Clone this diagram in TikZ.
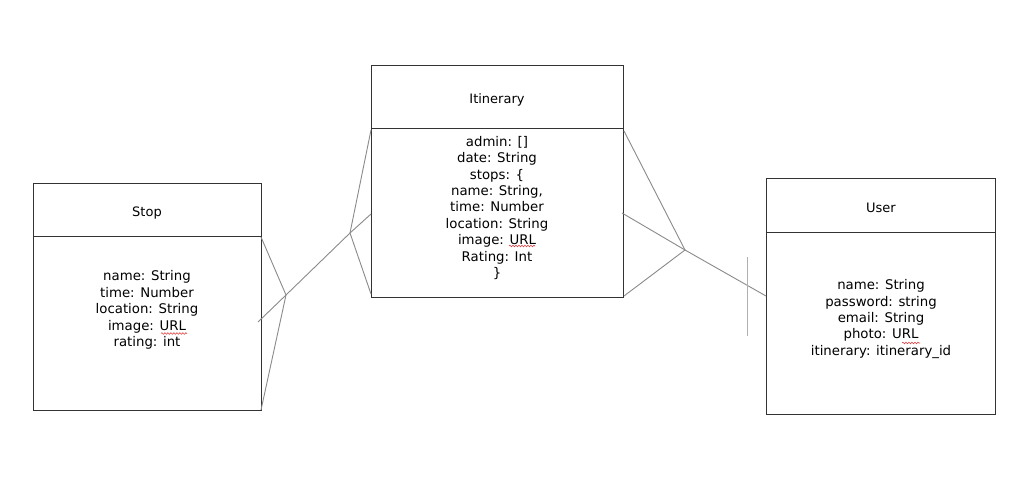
\documentclass[tikz,border=0pt]{standalone}
\usepackage{fontspec}
\setmainfont{DejaVu Sans}
\usetikzlibrary{decorations.pathmorphing}
\definecolor{boxcol}{HTML}{333333}
\definecolor{linkcol}{HTML}{8A8A8A}
\definecolor{barcol}{HTML}{B0B0B0}
\definecolor{spellcol}{HTML}{E04040}
\tikzset{
  entity/.style={draw=boxcol, line width=1pt, inner sep=0pt, anchor=north west},
  divider/.style={draw=boxcol, line width=1pt},
  ttl/.style={font=\fontsize{13}{16.4}\selectfont, text=black, inner sep=0pt},
  attrs/.style={font=\fontsize{13.3}{16.4}\selectfont, text=black, align=center, inner sep=0pt},
  link/.style={draw=linkcol, line width=0.9pt},
  bar/.style={draw=barcol, line width=1pt},
  spell/.style={draw=spellcol, line width=0.6pt, decorate, decoration={snake, amplitude=0.8pt, segment length=3pt}}
}
\begin{document}
\begin{tikzpicture}[x=1pt,y=-1pt]
\useasboundingbox (0,0) rectangle (1024,486);
\fill[white] (0,0) rectangle (1024,486);

% Stop
\node[entity, minimum width=228pt, minimum height=227pt] (stop) at (33,183) {};
\draw[divider] (33,236) -- (261,236);
\node[ttl] (stoptitle) at (147,213) {Stop};
\node[attrs] (stopattr) at (147,310) {name: String\\time: Number\\location: String\\image: URL\\rating: int};

% Itinerary
\node[entity, minimum width=252pt, minimum height=232pt] (itin) at (371,65) {};
\draw[divider] (371,129) -- (623,129);
\node[ttl] (itintitle) at (497,100) {Itinerary};
\node[attrs] (itinattr) at (497,208) {admin: []\\date: String\\stops: \{\\name: String,\\time: Number\\location: String\\image: URL\\Rating: Int\\\}};

% User
\node[entity, minimum width=229pt, minimum height=236pt] (user) at (766,178) {};
\draw[divider] (766,233) -- (995,233);
\node[ttl] (usertitle) at (881,208) {User};
\node[attrs] (userattr) at (881,319) {name: String\\password: string\\email: String\\photo: URL\\itinerary: itinerary\_id};

% spell-check marks
\draw[spell] (161,333.5) -- (187,333.5);
\draw[spell] (509,246) -- (535,246);
\draw[spell] (902,343) -- (920,343);

% Stop -- Itinerary (many to many)
\coordinate (s0) at (258,322);
\coordinate (sv) at (286,295);
\coordinate (st1) at (261,237);
\coordinate (st2) at (261,410);
\coordinate (iv) at (350,233);
\coordinate (i0) at (371,214);
\coordinate (it1) at (371,130);
\coordinate (it2) at (371,294);
\draw[link] (s0) -- (sv) -- (iv) -- (i0);
\draw[link] (st1) -- (sv) -- (st2);
\draw[link] (it1) -- (iv) -- (it2);

% Itinerary -- User
\coordinate (j0) at (622,213);
\coordinate (jv) at (685,250);
\coordinate (jt1) at (624,131);
\coordinate (jt2) at (624,296);
\coordinate (u0) at (766,296);
\coordinate (ub1) at (747,257);
\coordinate (ub2) at (747,336);
\draw[link] (j0) -- (jv) -- (u0);
\draw[link] (jt1) -- (jv) -- (jt2);
\draw[bar] (ub1) -- (ub2);
\end{tikzpicture}
\end{document}
